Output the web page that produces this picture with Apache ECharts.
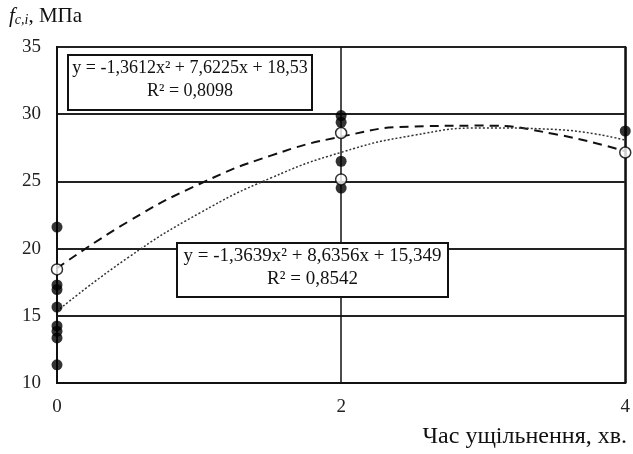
<!DOCTYPE html>
<html><head><meta charset="utf-8">
<script src="https://cdn.jsdelivr.net/npm/echarts@6/dist/echarts.min.js"></script>
<style>html,body{margin:0;padding:0;background:#fff}#c{width:633px;height:454px}</style>
</head><body><div id="c"></div>
<script>
const xTicks = [0, 2, 4];
const yTicks = [10, 15, 20, 25, 30, 35];
const filledX = [0, 0, 0, 0, 0, 0, 0, 0, 2, 2, 2, 2, 4];
const filledY = [21.6, 17.3, 16.95, 15.65, 14.25, 13.85, 13.35, 11.35, 29.9, 29.4, 26.5, 24.5, 28.75];
const openX = [0, 2, 2, 4];
const openY = [18.45, 28.6, 25.15, 27.15];
const trendX = [0, 0.5, 1, 1.5, 2, 2.5, 3, 3.5, 4];
const trend1Y = [18.53, 22.0, 24.79, 26.90, 28.33, 29.08, 29.15, 28.53, 27.24];
const trend2Y = [15.35, 19.33, 22.62, 25.23, 27.16, 28.41, 28.98, 28.87, 28.07];
const eq1 = ['y = -1,3612x² + 7,6225x + 18,53', 'R² = 0,8098'];
const eq2 = ['y = -1,3639x² + 8,6356x + 15,349', 'R² = 0,8542'];
const xName = 'Час ущільнення, хв.';

const FONT = '"Liberation Serif","Times New Roman",serif';
const zip = (a, b) => a.map((v, i) => [v, b[i]]);

const chart = echarts.init(document.getElementById('c'), null, {renderer: 'canvas'});
function eqBox(x, y, w, h, lines, fs) {
  return {
    type: 'group', left: x, top: y, z: 100,
    children: [
      {type: 'rect', z: 100, shape: {x: 0, y: 0, width: w, height: h},
       style: {fill: '#fff', stroke: '#111', lineWidth: 2}},
      {type: 'text', z: 101, x: w / 2, y: 4,
       style: {text: lines[0], font: fs + 'px ' + FONT, fill: '#111', textAlign: 'center', textVerticalAlign: 'top'}},
      {type: 'text', z: 101, x: w / 2, y: 27,
       style: {text: lines[1], font: fs + 'px ' + FONT, fill: '#111', textAlign: 'center', textVerticalAlign: 'top'}}
    ]
  };
}
chart.setOption({
  animation: false,
  backgroundColor: '#fff',
  title: {
    left: 4, top: 1,
    text: '{i|f}{s|c,i}{n|, МПа}',
    textStyle: {
      fontWeight: 'normal',
      rich: {
        i: {fontFamily: FONT, fontStyle: 'italic', fontWeight: 'normal', fontSize: 21, color: '#111'},
        s: {fontFamily: FONT, fontStyle: 'italic', fontWeight: 'normal', fontSize: 14, color: '#111', verticalAlign: 'bottom', padding: [7, 0, 0, 0]},
        n: {fontFamily: FONT, fontWeight: 'normal', fontSize: 21, color: '#111'}
      }
    }
  },
  grid: {left: 57, right: 7, top: 47, bottom: 71, show: true, borderColor: '#111', borderWidth: 2, backgroundColor: 'transparent'},
  xAxis: {
    type: 'value', min: xTicks[0], max: xTicks[xTicks.length - 1], interval: 2,
    axisLine: {show: true, onZero: false, lineStyle: {color: '#111', width: 2}},
    axisTick: {show: false},
    axisLabel: {fontFamily: FONT, fontSize: 19, color: '#222', margin: 15},
    splitLine: {show: true, lineStyle: {color: '#111', width: 1.5}}
  },
  yAxis: {
    type: 'value', min: yTicks[0], max: yTicks[yTicks.length - 1], interval: 5,
    axisLine: {show: true, lineStyle: {color: '#111', width: 2}},
    axisTick: {show: false},
    axisLabel: {fontFamily: FONT, fontSize: 19, color: '#222', margin: 16},
    splitLine: {show: true, lineStyle: {color: '#222', width: 2}}
  },
  graphic: [
    eqBox(67, 54, 244, 55, eq1, 18),
    eqBox(176, 242, 271, 54, eq2, 19),
    {type: 'text', right: 6, top: 425, z: 100,
     style: {text: xName, font: '24px ' + FONT, fill: '#111'}}
  ],
  series: [
    {type: 'line', data: zip(trendX, trend1Y), smooth: true, symbol: 'none', z: 2,
     lineStyle: {color: '#111', width: 2, type: [9, 6]}},
    {type: 'line', data: zip(trendX, trend2Y), smooth: true, symbol: 'none', z: 2,
     lineStyle: {color: '#333', width: 1.5, type: [2, 2]}},
    {type: 'scatter', data: zip(filledX, filledY), symbol: 'circle', symbolSize: 11, z: 5,
     itemStyle: {color: '#000'}},
    {type: 'scatter', data: zip(openX, openY), symbol: 'circle', symbolSize: 11, z: 6,
     itemStyle: {color: '#fff', borderColor: '#000', borderWidth: 1.5}}
  ]
});
</script>
</body></html>
